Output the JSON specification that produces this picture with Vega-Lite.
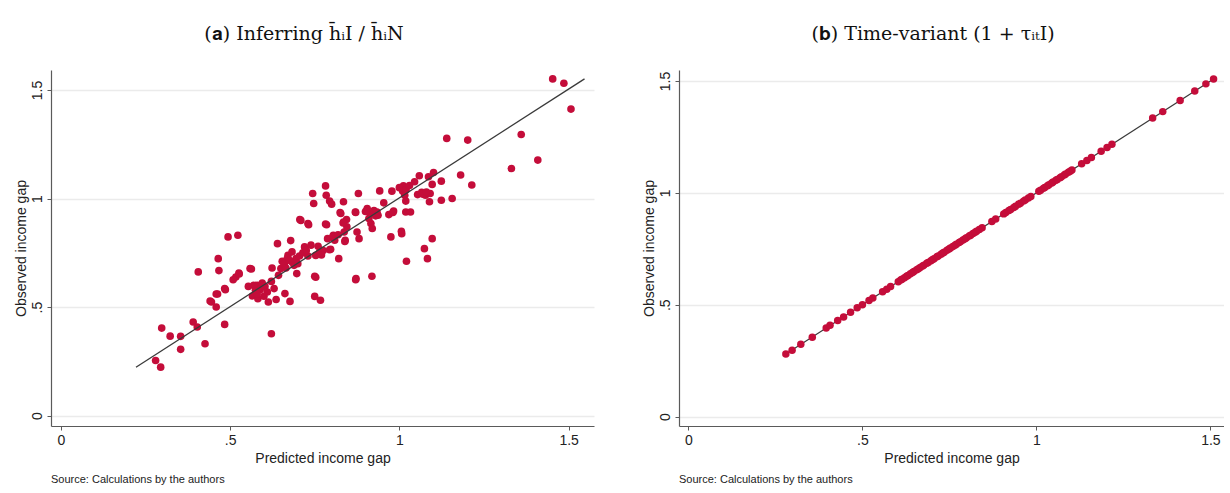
{
  "$schema": "https://vega.github.io/schema/vega-lite/v6.json",
  "background": "white",
  "padding": {"left": 14, "top": 25, "right": 0, "bottom": 2},
  "config": {
    "view": {"stroke": null},
    "font": "Liberation Sans",
    "axis": {
      "domainColor": "#5a5a5a",
      "domainWidth": 1.2,
      "tickColor": "#5a5a5a",
      "tickWidth": 1,
      "tickSize": 4,
      "labelFont": "Liberation Sans",
      "labelFontSize": 14,
      "labelColor": "#222222",
      "labelFlush": false,
      "labelOverlap": false,
      "titleFont": "Liberation Sans",
      "titleFontSize": 14,
      "titleFontWeight": "normal",
      "titleColor": "#222222",
      "gridColor": "#ebebeb",
      "gridWidth": 1.3
    },
    "axisX": {"grid": false, "labelPadding": 3, "titlePadding": 4},
    "axisY": {"grid": true, "labelAngle": -90, "labelPadding": 3, "titlePadding": 2}
  },
  "datasets": {
    "fitA": [
      {"pred": 0.222, "obs": 0.223},
      {"pred": 1.547, "obs": 1.551}
    ],
    "gapA": [
      {"pred": 0.280, "obs": 0.254}, {"pred": 0.295, "obs": 0.223}, {"pred": 0.298, "obs": 0.403}, {"pred": 0.323, "obs": 0.366},
      {"pred": 0.354, "obs": 0.365}, {"pred": 0.354, "obs": 0.305}, {"pred": 0.391, "obs": 0.431}, {"pred": 0.403, "obs": 0.408},
      {"pred": 0.406, "obs": 0.662}, {"pred": 0.426, "obs": 0.331}, {"pred": 0.441, "obs": 0.528}, {"pred": 0.459, "obs": 0.560},
      {"pred": 0.459, "obs": 0.500}, {"pred": 0.465, "obs": 0.723}, {"pred": 0.467, "obs": 0.668}, {"pred": 0.484, "obs": 0.585},
      {"pred": 0.484, "obs": 0.420}, {"pred": 0.494, "obs": 0.823}, {"pred": 0.523, "obs": 0.831}, {"pred": 0.517, "obs": 0.638},
      {"pred": 0.526, "obs": 0.657}, {"pred": 0.509, "obs": 0.626}, {"pred": 0.554, "obs": 0.595}, {"pred": 0.559, "obs": 0.677},
      {"pred": 0.566, "obs": 0.551}, {"pred": 0.575, "obs": 0.577}, {"pred": 0.582, "obs": 0.538}, {"pred": 0.580, "obs": 0.600},
      {"pred": 0.589, "obs": 0.580}, {"pred": 0.603, "obs": 0.595}, {"pred": 0.610, "obs": 0.569}, {"pred": 0.613, "obs": 0.523},
      {"pred": 0.622, "obs": 0.618}, {"pred": 0.624, "obs": 0.680}, {"pred": 0.622, "obs": 0.377}, {"pred": 0.630, "obs": 0.585},
      {"pred": 0.636, "obs": 0.535}, {"pred": 0.640, "obs": 0.792}, {"pred": 0.643, "obs": 0.646}, {"pred": 0.650, "obs": 0.677},
      {"pred": 0.654, "obs": 0.711}, {"pred": 0.660, "obs": 0.692}, {"pred": 0.662, "obs": 0.562}, {"pred": 0.677, "obs": 0.526},
      {"pred": 0.679, "obs": 0.806}, {"pred": 0.671, "obs": 0.738}, {"pred": 0.683, "obs": 0.754}, {"pred": 0.669, "obs": 0.723},
      {"pred": 0.689, "obs": 0.692}, {"pred": 0.695, "obs": 0.723}, {"pred": 0.697, "obs": 0.654}, {"pred": 0.683, "obs": 0.708},
      {"pred": 0.706, "obs": 0.903}, {"pred": 0.720, "obs": 0.777}, {"pred": 0.730, "obs": 0.885}, {"pred": 0.730, "obs": 0.735},
      {"pred": 0.739, "obs": 0.785}, {"pred": 0.744, "obs": 1.023}, {"pred": 0.747, "obs": 0.977}, {"pred": 0.750, "obs": 0.642},
      {"pred": 0.750, "obs": 0.549}, {"pred": 0.753, "obs": 0.738}, {"pred": 0.765, "obs": 0.754}, {"pred": 0.767, "obs": 0.531},
      {"pred": 0.782, "obs": 1.058}, {"pred": 0.784, "obs": 1.015}, {"pred": 0.782, "obs": 0.882}, {"pred": 0.788, "obs": 0.815},
      {"pred": 0.794, "obs": 0.988}, {"pred": 0.797, "obs": 0.766}, {"pred": 0.800, "obs": 0.974}, {"pred": 0.805, "obs": 0.831},
      {"pred": 0.809, "obs": 0.808}, {"pred": 0.821, "obs": 0.723}, {"pred": 0.825, "obs": 0.935}, {"pred": 0.835, "obs": 0.985},
      {"pred": 0.835, "obs": 0.892}, {"pred": 0.837, "obs": 0.846}, {"pred": 0.840, "obs": 0.808}, {"pred": 0.844, "obs": 0.903},
      {"pred": 0.870, "obs": 0.938}, {"pred": 0.872, "obs": 0.631}, {"pred": 0.875, "obs": 0.846}, {"pred": 0.879, "obs": 1.023},
      {"pred": 0.881, "obs": 0.815}, {"pred": 0.905, "obs": 0.954}, {"pred": 0.910, "obs": 0.908}, {"pred": 0.916, "obs": 0.885},
      {"pred": 0.920, "obs": 0.862}, {"pred": 0.919, "obs": 0.642}, {"pred": 0.926, "obs": 0.931}, {"pred": 0.934, "obs": 0.938},
      {"pred": 0.937, "obs": 0.923}, {"pred": 0.942, "obs": 1.035}, {"pred": 0.954, "obs": 0.980}, {"pred": 0.969, "obs": 0.926},
      {"pred": 0.975, "obs": 0.823}, {"pred": 0.978, "obs": 1.034}, {"pred": 0.983, "obs": 0.942}, {"pred": 1.006, "obs": 0.849},
      {"pred": 1.007, "obs": 0.838}, {"pred": 1.010, "obs": 1.034}, {"pred": 1.012, "obs": 1.058}, {"pred": 1.016, "obs": 1.015},
      {"pred": 1.019, "obs": 0.988}, {"pred": 1.019, "obs": 0.938}, {"pred": 1.021, "obs": 0.711}, {"pred": 1.033, "obs": 0.938},
      {"pred": 1.045, "obs": 1.077}, {"pred": 1.054, "obs": 1.018}, {"pred": 1.059, "obs": 1.105}, {"pred": 1.066, "obs": 1.028},
      {"pred": 1.074, "obs": 0.769}, {"pred": 1.077, "obs": 1.015}, {"pred": 1.083, "obs": 0.723}, {"pred": 1.086, "obs": 1.100},
      {"pred": 1.089, "obs": 0.985}, {"pred": 1.091, "obs": 1.023}, {"pred": 1.097, "obs": 0.815}, {"pred": 1.101, "obs": 1.120},
      {"pred": 1.097, "obs": 1.065}, {"pred": 1.124, "obs": 0.992}, {"pred": 1.124, "obs": 1.080}, {"pred": 1.140, "obs": 1.277},
      {"pred": 1.156, "obs": 1.000}, {"pred": 1.181, "obs": 1.108}, {"pred": 1.202, "obs": 1.269}, {"pred": 1.214, "obs": 1.062},
      {"pred": 1.331, "obs": 1.138}, {"pred": 1.360, "obs": 1.295}, {"pred": 1.409, "obs": 1.177}, {"pred": 1.453, "obs": 1.551},
      {"pred": 1.486, "obs": 1.531}, {"pred": 1.507, "obs": 1.412},
      {"pred": 0.705, "obs": 0.735}, {"pred": 0.715, "obs": 0.750}, {"pred": 0.725, "obs": 0.760}, {"pred": 0.700, "obs": 0.700},
      {"pred": 0.660, "obs": 0.700}, {"pred": 0.675, "obs": 0.715}, {"pred": 0.665, "obs": 0.680}, {"pred": 0.580, "obs": 0.560},
      {"pred": 0.600, "obs": 0.550}, {"pred": 0.570, "obs": 0.600}, {"pred": 0.595, "obs": 0.610}, {"pred": 0.900, "obs": 0.940},
      {"pred": 0.915, "obs": 0.930}, {"pred": 0.925, "obs": 0.945}, {"pred": 0.930, "obs": 0.920}, {"pred": 0.760, "obs": 0.780},
      {"pred": 0.775, "obs": 0.760}, {"pred": 0.770, "obs": 0.740}, {"pred": 1.000, "obs": 1.050}, {"pred": 1.020, "obs": 1.040},
      {"pred": 1.030, "obs": 1.060}, {"pred": 1.070, "obs": 1.020}, {"pred": 1.080, "obs": 1.030}, {"pred": 0.845, "obs": 0.870},
      {"pred": 0.445, "obs": 0.523}, {"pred": 0.463, "obs": 0.560}, {"pred": 0.486, "obs": 0.580}, {"pred": 0.527, "obs": 0.652},
      {"pred": 0.563, "obs": 0.675}, {"pred": 0.804, "obs": 0.825}, {"pred": 0.819, "obs": 0.833}, {"pred": 0.839, "obs": 0.802},
      {"pred": 0.794, "obs": 0.764}, {"pred": 0.709, "obs": 0.899}, {"pred": 0.732, "obs": 0.879}, {"pred": 0.785, "obs": 0.879},
      {"pred": 0.834, "obs": 0.887}, {"pred": 0.827, "obs": 0.931}, {"pred": 0.871, "obs": 0.936}, {"pred": 0.903, "obs": 0.940},
      {"pred": 0.981, "obs": 0.936}, {"pred": 0.753, "obs": 0.637}, {"pred": 0.871, "obs": 0.626}
    ],
    "fitB": [
      {"pred": 0.280, "obs": 0.280},
      {"pred": 1.509, "obs": 1.509}
    ],
    "gapB": [
      {"pred": 0.280, "obs": 0.280}, {"pred": 0.298, "obs": 0.297}, {"pred": 0.323, "obs": 0.323}, {"pred": 0.356, "obs": 0.355},
      {"pred": 0.396, "obs": 0.396}, {"pred": 0.407, "obs": 0.408}, {"pred": 0.429, "obs": 0.429}, {"pred": 0.446, "obs": 0.445},
      {"pred": 0.466, "obs": 0.466}, {"pred": 0.485, "obs": 0.486}, {"pred": 0.500, "obs": 0.500}, {"pred": 0.519, "obs": 0.519},
      {"pred": 0.530, "obs": 0.530}, {"pred": 0.558, "obs": 0.558}, {"pred": 0.570, "obs": 0.569}, {"pred": 0.581, "obs": 0.581},
      {"pred": 0.603, "obs": 0.603}, {"pred": 0.610, "obs": 0.610}, {"pred": 0.614, "obs": 0.614}, {"pred": 0.621, "obs": 0.621},
      {"pred": 0.627, "obs": 0.627}, {"pred": 0.631, "obs": 0.631}, {"pred": 0.638, "obs": 0.638}, {"pred": 0.644, "obs": 0.644},
      {"pred": 0.648, "obs": 0.648}, {"pred": 0.656, "obs": 0.656}, {"pred": 0.661, "obs": 0.661}, {"pred": 0.666, "obs": 0.666},
      {"pred": 0.673, "obs": 0.673}, {"pred": 0.677, "obs": 0.677}, {"pred": 0.685, "obs": 0.685}, {"pred": 0.689, "obs": 0.689},
      {"pred": 0.697, "obs": 0.697}, {"pred": 0.702, "obs": 0.702}, {"pred": 0.706, "obs": 0.706}, {"pred": 0.714, "obs": 0.714},
      {"pred": 0.718, "obs": 0.718}, {"pred": 0.726, "obs": 0.726}, {"pred": 0.731, "obs": 0.731}, {"pred": 0.735, "obs": 0.735},
      {"pred": 0.743, "obs": 0.743}, {"pred": 0.749, "obs": 0.749}, {"pred": 0.753, "obs": 0.753}, {"pred": 0.760, "obs": 0.760},
      {"pred": 0.766, "obs": 0.766}, {"pred": 0.770, "obs": 0.770}, {"pred": 0.778, "obs": 0.778}, {"pred": 0.782, "obs": 0.782},
      {"pred": 0.789, "obs": 0.789}, {"pred": 0.795, "obs": 0.795}, {"pred": 0.799, "obs": 0.799}, {"pred": 0.807, "obs": 0.807},
      {"pred": 0.811, "obs": 0.811}, {"pred": 0.818, "obs": 0.818}, {"pred": 0.824, "obs": 0.824}, {"pred": 0.828, "obs": 0.828},
      {"pred": 0.836, "obs": 0.836}, {"pred": 0.844, "obs": 0.844}, {"pred": 0.872, "obs": 0.872}, {"pred": 0.883, "obs": 0.883},
      {"pred": 0.906, "obs": 0.906}, {"pred": 0.912, "obs": 0.912}, {"pred": 0.921, "obs": 0.921}, {"pred": 0.926, "obs": 0.926},
      {"pred": 0.935, "obs": 0.935}, {"pred": 0.940, "obs": 0.940}, {"pred": 0.949, "obs": 0.949}, {"pred": 0.954, "obs": 0.954},
      {"pred": 0.963, "obs": 0.963}, {"pred": 0.968, "obs": 0.968}, {"pred": 0.977, "obs": 0.977}, {"pred": 0.984, "obs": 0.984},
      {"pred": 1.007, "obs": 1.007}, {"pred": 1.012, "obs": 1.012}, {"pred": 1.020, "obs": 1.020}, {"pred": 1.024, "obs": 1.024},
      {"pred": 1.032, "obs": 1.032}, {"pred": 1.036, "obs": 1.036}, {"pred": 1.044, "obs": 1.044}, {"pred": 1.048, "obs": 1.048},
      {"pred": 1.056, "obs": 1.056}, {"pred": 1.060, "obs": 1.060}, {"pred": 1.068, "obs": 1.068}, {"pred": 1.072, "obs": 1.072},
      {"pred": 1.080, "obs": 1.080}, {"pred": 1.084, "obs": 1.084}, {"pred": 1.092, "obs": 1.092}, {"pred": 1.097, "obs": 1.097},
      {"pred": 1.102, "obs": 1.102}, {"pred": 1.130, "obs": 1.130}, {"pred": 1.145, "obs": 1.145}, {"pred": 1.158, "obs": 1.158},
      {"pred": 1.186, "obs": 1.186}, {"pred": 1.203, "obs": 1.203}, {"pred": 1.217, "obs": 1.217}, {"pred": 1.334, "obs": 1.334},
      {"pred": 1.363, "obs": 1.363}, {"pred": 1.413, "obs": 1.413}, {"pred": 1.455, "obs": 1.455}, {"pred": 1.487, "obs": 1.487},
      {"pred": 1.509, "obs": 1.509}
    ]
  },
  "spacing": 48,
  "hconcat": [
    {
      "title": {
        "text": "(𝐚) Inferring h̄ᵢI / h̄ᵢN",
        "font": "DejaVu Serif",
        "fontSize": 19,
        "fontWeight": "normal",
        "color": "#111111",
        "anchor": "middle",
        "offset": 26
      },
      "vconcat": [
        {
          "width": 543,
          "height": 356,
          "title": {
            "text": "Source: Calculations by the authors",
            "orient": "bottom",
            "anchor": "start",
            "frame": "group",
            "font": "Liberation Sans",
            "fontSize": 11,
            "fontWeight": "normal",
            "color": "#222222",
            "offset": 9
          },
          "layer": [
            {
              "data": {"name": "gapA"},
              "mark": {"type": "circle", "color": "#c40d3a", "opacity": 1, "size": 58},
              "encoding": {
                "x": {
                  "field": "pred", "type": "quantitative",
                  "scale": {"domain": [-0.029, 1.575], "nice": false, "zero": false},
                  "axis": {"title": "Predicted income gap", "values": [0, 0.5, 1, 1.5], "labelExpr": "datum.value == 0.5 ? '.5' : format(datum.value, '~g')"}
                },
                "y": {
                  "field": "obs", "type": "quantitative",
                  "scale": {"domain": [-0.048, 1.592], "nice": false, "zero": false},
                  "axis": {"title": "Observed income gap", "values": [0, 0.5, 1, 1.5], "labelExpr": "datum.value == 0.5 ? '.5' : format(datum.value, '~g')"}
                }
              }
            },
            {
              "data": {"name": "fitA"},
              "mark": {"type": "line", "color": "#3a3a3a", "strokeWidth": 1.3},
              "encoding": {
                "x": {"field": "pred", "type": "quantitative"},
                "y": {"field": "obs", "type": "quantitative"}
              }
            }
          ]
        }
      ]
    },
    {
      "title": {
        "text": "(𝐛) Time-variant (1 + τᵢₜI)",
        "font": "DejaVu Serif",
        "fontSize": 19,
        "fontWeight": "normal",
        "color": "#111111",
        "anchor": "middle",
        "offset": 26
      },
      "vconcat": [
        {
          "width": 545,
          "height": 356,
          "title": {
            "text": "Source: Calculations by the authors",
            "orient": "bottom",
            "anchor": "start",
            "frame": "group",
            "font": "Liberation Sans",
            "fontSize": 11,
            "fontWeight": "normal",
            "color": "#222222",
            "offset": 9
          },
          "layer": [
            {
              "data": {"name": "fitB"},
              "mark": {"type": "line", "color": "#3a3a3a", "strokeWidth": 1.2},
              "encoding": {
                "x": {
                  "field": "pred", "type": "quantitative",
                  "scale": {"domain": [-0.027, 1.539], "nice": false, "zero": false},
                  "axis": {"title": "Predicted income gap", "values": [0, 0.5, 1, 1.5], "labelExpr": "datum.value == 0.5 ? '.5' : format(datum.value, '~g')"}
                },
                "y": {
                  "field": "obs", "type": "quantitative",
                  "scale": {"domain": [-0.042, 1.549], "nice": false, "zero": false},
                  "axis": {"title": "Observed income gap", "values": [0, 0.5, 1, 1.5], "labelExpr": "datum.value == 0.5 ? '.5' : format(datum.value, '~g')"}
                }
              }
            },
            {
              "data": {"name": "gapB"},
              "mark": {"type": "circle", "color": "#c40d3a", "opacity": 1, "size": 56},
              "encoding": {
                "x": {"field": "pred", "type": "quantitative"},
                "y": {"field": "obs", "type": "quantitative"}
              }
            }
          ]
        }
      ]
    }
  ]
}
